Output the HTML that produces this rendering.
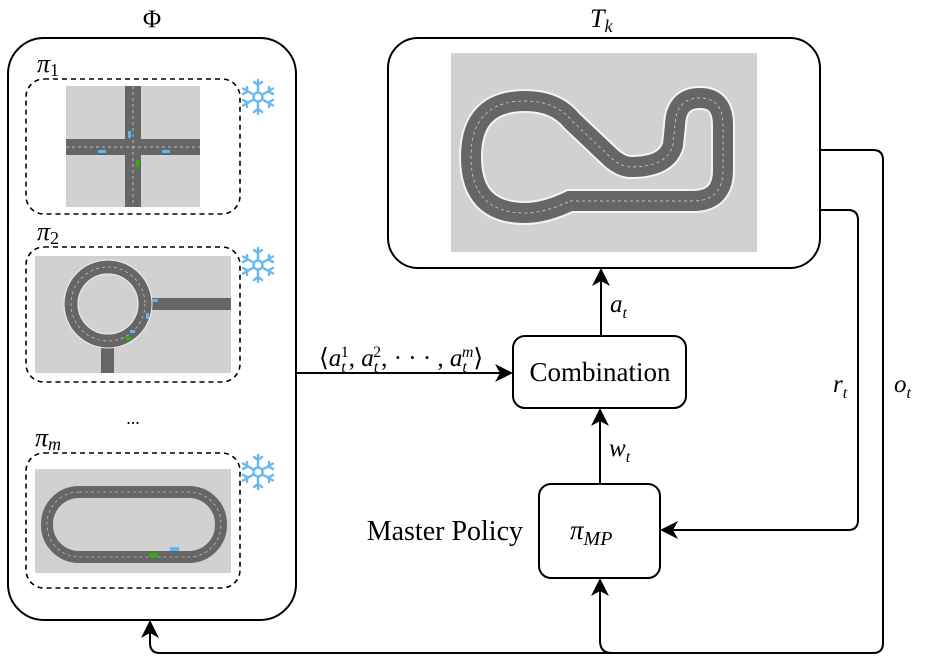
<!DOCTYPE html>
<html><head><meta charset="utf-8"><style>
html,body{margin:0;padding:0;background:#fff;}
svg{display:block;}
text{font-family:"Liberation Serif",serif;fill:#000;}
</style></head><body>
<svg width="927" height="664" viewBox="0 0 927 664" xmlns="http://www.w3.org/2000/svg">
<defs>
<marker id="ah" markerWidth="20" markerHeight="18" refX="16" refY="9" orient="auto" markerUnits="userSpaceOnUse">
<path d="M0,0 L18,9 L0,18 L5,9 Z" fill="#000"/>
</marker>
<g id="flake" stroke="#6bb8f0" stroke-width="2.4" fill="none" stroke-linecap="round">
<circle r="4.5"/>
<path d="M0,-17 V-4.5 M0,4.5 V17 M-15,-8.5 L-4,-2.2 M4,2.2 L15,8.5 M-15,8.5 L-4,2.2 M4,-2.2 L15,-8.5"/>
<path d="M-4,-15 L0,-12 L4,-15 M-4,15 L0,12 L4,15 M-15,-3 L-11,-5 L-11,-10 M15,3 L11,5 L11,10 M-15,3 L-11,5 L-11,10 M15,-3 L11,-5 L11,-10"/>
</g>
</defs>

<text x="152" y="27" font-size="25" text-anchor="middle">Φ</text>
<rect x="8" y="38" width="288" height="582" rx="36" fill="none" stroke="#000" stroke-width="2"/>

<text x="37" y="72" font-size="26" font-style="italic">π<tspan font-size="18" font-style="normal" dy="4">1</tspan></text>
<rect x="26" y="79" width="214" height="135" rx="18" fill="none" stroke="#000" stroke-width="1.6" stroke-dasharray="5,4"/>
<rect x="66" y="86" width="134" height="121" fill="#d1d1d1"/>
<rect x="125" y="86" width="16" height="121" fill="#666"/>
<rect x="66" y="139" width="134" height="16" fill="#666"/>
<line x1="133" y1="86" x2="133" y2="207" stroke="#ddd" stroke-dasharray="3,3" stroke-width="0.7"/>
<line x1="66" y1="147" x2="200" y2="147" stroke="#ddd" stroke-dasharray="3,3" stroke-width="0.7"/>
<rect x="128" y="131" width="3" height="7" fill="#5ab8f0"/>
<rect x="98" y="150" width="8" height="3" fill="#5ab8f0"/>
<rect x="162" y="150" width="8" height="3" fill="#5ab8f0"/>
<rect x="136" y="160" width="3" height="7" fill="#2db300"/>
<use href="#flake" x="258" y="97"/>

<text x="37" y="240" font-size="26" font-style="italic">π<tspan font-size="18" font-style="normal" dy="4">2</tspan></text>
<rect x="26" y="247" width="214" height="135" rx="18" fill="none" stroke="#000" stroke-width="1.6" stroke-dasharray="5,4"/>
<rect x="35" y="256" width="196" height="117" fill="#d1d1d1"/>
<rect x="140" y="298" width="91" height="12" fill="#666"/>
<rect x="101" y="335" width="13" height="38" fill="#666"/>
<circle cx="108" cy="304" r="37" fill="none" stroke="#666" stroke-width="13"/>
<circle cx="108" cy="304" r="37" fill="none" stroke="#ddd" stroke-width="0.6" stroke-dasharray="3,3"/>
<circle cx="108" cy="304" r="30" fill="none" stroke="#eee" stroke-width="1"/>
<circle cx="108" cy="304" r="44" fill="none" stroke="#eee" stroke-width="1"/>
<rect x="152" y="299" width="6" height="3" fill="#5ab8f0"/>
<rect x="146" y="313" width="3" height="6" fill="#5ab8f0"/>
<rect x="130" y="330" width="5" height="3" fill="#5ab8f0"/>
<rect x="126" y="337" width="5" height="3" fill="#2db300"/>
<use href="#flake" x="258" y="265"/>

<text x="133" y="424" font-size="18" text-anchor="middle">...</text>

<text x="35" y="446" font-size="26" font-style="italic">π<tspan font-size="18" dy="4">m</tspan></text>
<rect x="26" y="453" width="214" height="135" rx="18" fill="none" stroke="#000" stroke-width="1.6" stroke-dasharray="5,4"/>
<rect x="35" y="469" width="196" height="104" fill="#d1d1d1"/>
<rect x="47" y="492" width="174" height="65" rx="32" fill="none" stroke="#666" stroke-width="12"/>
<rect x="47" y="492" width="174" height="65" rx="32" fill="none" stroke="#ddd" stroke-width="0.6" stroke-dasharray="3,3"/>
<rect x="170" y="547" width="9" height="4" fill="#5ab8f0"/>
<rect x="149" y="553" width="9" height="4" fill="#2db300"/>
<use href="#flake" x="258" y="472"/>

<text x="590" y="27" font-size="26" font-style="italic">T<tspan font-size="18" dy="5">k</tspan></text>
<rect x="388" y="38" width="432" height="230" rx="30" fill="none" stroke="#000" stroke-width="2"/>
<rect x="451" y="53" width="306" height="199" fill="#d1d1d1"/>
<path d="M570,201 L693,201 Q723,201 723,170 L723,125 Q723,98 700,98 Q676,98 675,125 L673,145 Q667,167 631,167 Q620,167 608,155 L572,121 Q556,101 525,101 Q471,101 471,157 Q471,213 525,213 Q545,213 570,201 Z" fill="none" stroke="#f4f4f4" stroke-width="24"/>
<path d="M570,201 L693,201 Q723,201 723,170 L723,125 Q723,98 700,98 Q676,98 675,125 L673,145 Q667,167 631,167 Q620,167 608,155 L572,121 Q556,101 525,101 Q471,101 471,157 Q471,213 525,213 Q545,213 570,201 Z" fill="none" stroke="#666" stroke-width="20"/>
<path d="M570,201 L693,201 Q723,201 723,170 L723,125 Q723,98 700,98 Q676,98 675,125 L673,145 Q667,167 631,167 Q620,167 608,155 L572,121 Q556,101 525,101 Q471,101 471,157 Q471,213 525,213 Q545,213 570,201 Z" fill="none" stroke="#ddd" stroke-width="0.7" stroke-dasharray="3,3"/>

<rect x="513" y="336" width="173" height="72" rx="12" fill="#fff" stroke="#000" stroke-width="2"/>
<text x="600" y="381" font-size="27" text-anchor="middle">Combination</text>

<rect x="539" y="484" width="121" height="94" rx="12" fill="#fff" stroke="#000" stroke-width="2"/>
<text x="570" y="539" font-size="27" font-style="italic">π<tspan font-size="20" dy="6">MP</tspan></text>
<text x="523" y="540" font-size="28" text-anchor="end">Master Policy</text>

<line x1="296" y1="373" x2="511" y2="373" stroke="#000" stroke-width="2" marker-end="url(#ah)"/>
<text x="319" y="366" font-size="25" font-style="italic"><tspan font-style="normal">⟨</tspan>a<tspan font-size="16" dy="6">t</tspan><tspan font-size="16" font-style="normal" dx="-5" dy="-15">1</tspan><tspan dy="9" font-style="normal">, </tspan>a<tspan font-size="16" dy="6">t</tspan><tspan font-size="16" font-style="normal" dx="-5" dy="-15">2</tspan><tspan dy="9" font-style="normal">, · · · ,   </tspan>a<tspan font-size="16" dy="6">t</tspan><tspan font-size="16" dx="-5" dy="-15">m</tspan><tspan dy="9" font-style="normal">⟩</tspan></text>

<line x1="601" y1="336" x2="601" y2="270" stroke="#000" stroke-width="2" marker-end="url(#ah)"/>
<text x="610" y="312" font-size="25" font-style="italic">a<tspan font-size="16" dy="6">t</tspan></text>

<line x1="600" y1="484" x2="600" y2="410" stroke="#000" stroke-width="2" marker-end="url(#ah)"/>
<text x="609" y="456" font-size="25" font-style="italic">w<tspan font-size="16" dy="6">t</tspan></text>

<path d="M820,210 L848,210 Q858,210 858,220 L858,520 Q858,530 848,530 L662,530" fill="none" stroke="#000" stroke-width="2" marker-end="url(#ah)"/>
<text x="833" y="392" font-size="25" font-style="italic">r<tspan font-size="16" dy="6">t</tspan></text>

<path d="M820,150 L873,150 Q883,150 883,160 L883,643 Q883,653 873,653 L160,653 Q150,653 150,643 L150,622" fill="none" stroke="#000" stroke-width="2" marker-end="url(#ah)"/>
<path d="M612,653 Q600,653 600,641 L600,580" fill="none" stroke="#000" stroke-width="2" marker-end="url(#ah)"/>
<text x="894" y="392" font-size="25" font-style="italic">o<tspan font-size="16" dy="6">t</tspan></text>
</svg>
</body></html>
